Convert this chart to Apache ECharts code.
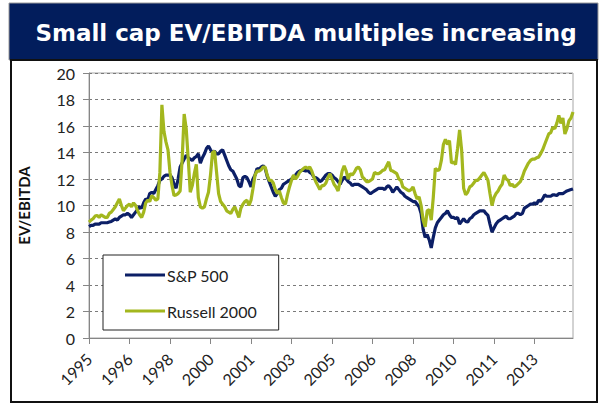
<!DOCTYPE html>
<html>
<head>
<meta charset="utf-8">
<script src="https://cdn.jsdelivr.net/npm/echarts@6/dist/echarts.min.js"></script>
<style>
  html, body { margin: 0; padding: 0; background: #fff; }
  #chart { width: 602px; height: 406px; }
</style>
</head>
<body>
<div id="chart"></div>
<script>
// monthly readings, Jan 1995 .. Dec 2014
const startYear = 1995
const years = 20
const categories = []
for (let y = 0; y < years; y++) {
  for (let m = 1; m <= 12; m++) {
    categories.push((startYear + y) + '-' + (m < 10 ? '0' + m : m))
  }
}

const sp500 = [
  8.4, 8.5, 8.5, 8.6, 8.6, 8.6, 8.7, 8.7, 8.7, 8.7, 8.75, 8.8,          // 1995
  8.9, 9.0, 8.9, 9.1, 9.2, 9.3, 9.3, 9.4, 9.3, 9.1, 9.3, 9.5,           // 1996
  9.7, 9.9, 9.8, 10.2, 10.5, 10.4, 10.9, 11.0, 10.9, 11.2, 11.5, 11.9,  // 1997
  12.0, 12.2, 12.3, 12.3, 12.3, 12.1, 11.6, 11.3, 12.0, 12.9, 13.2, 13.5,
  13.8, 13.6, 13.5, 13.4, 13.6, 13.7, 13.9, 13.2, 13.6, 13.9, 14.3, 14.5,
  14.2, 14.0, 14.1, 13.9, 13.9, 14.1, 14.2, 13.8, 13.4, 13.0, 12.7, 12.6, // 2000
  12.3, 12.0, 11.5, 11.4, 12.1, 12.2, 12.1, 11.8, 11.4, 12.0, 12.3, 12.8,
  12.7, 12.9, 13.0, 12.8, 12.2, 11.8, 11.4, 11.0, 10.7, 10.9, 11.2, 11.3,
  11.6, 11.7, 11.8, 11.9, 12.0, 12.15, 12.3, 12.5, 12.6, 12.65, 12.7, 12.6,
  12.65, 12.5, 12.4, 12.15, 12.1, 12.0, 11.8, 11.9, 12.1, 12.3, 12.4, 12.4,
  12.3, 12.1, 12.0, 11.8, 11.6, 11.9, 12.15, 12.0, 11.8, 11.7, 11.5, 11.6, // 2005
  11.6, 11.6, 11.5, 11.4, 11.3, 11.2, 11.0, 10.9, 11.0, 11.1, 11.2, 11.3,
  11.3, 11.3, 11.2, 11.4, 11.5, 11.3, 11.0, 11.2, 11.4, 11.2, 11.0, 10.9,
  10.7, 10.6, 10.5, 10.4, 10.3, 10.3, 10.1, 9.9, 9.4, 8.2, 7.6, 7.8,
  7.4, 6.8, 7.6, 8.3, 8.7, 8.9, 9.1, 9.3, 9.4, 9.6, 9.3, 9.1,
  9.1, 9.0, 9.1, 8.6, 8.8, 9.0, 8.8, 8.75, 9.0, 9.1, 9.3, 9.4,          // 2010
  9.5, 9.6, 9.6, 9.6, 9.4, 9.25, 8.6, 8.0, 8.3, 8.6, 8.8, 8.9,
  9.0, 9.1, 9.2, 9.0, 9.0, 9.1, 9.2, 9.4, 9.4, 9.3, 9.4, 9.8,
  9.9, 10.0, 10.1, 10.1, 10.2, 10.1, 10.4, 10.3, 10.5, 10.8, 10.7, 10.7,
  10.7, 10.8, 10.8, 10.75, 10.9, 10.9, 10.9, 11.0, 11.1, 11.15, 11.2, 11.25
]

const russell2000 = [
  8.75, 8.9, 9.0, 9.2, 9.25, 9.1, 9.3, 9.2, 9.1, 9.1, 9.4, 9.5,         // 1995
  9.7, 9.9, 10.2, 10.5, 10.0, 9.6, 9.8, 10.0, 10.1, 9.9, 10.2, 10.0,
  9.6, 9.3, 9.1, 9.5, 10.2, 10.4, 10.3, 10.75, 10.6, 10.4, 10.5, 12.5,
  17.6, 15.6, 14.8, 14.2, 12.5, 11.5, 10.75, 10.8, 10.9, 11.1, 13.5, 16.9,
  15.8, 13.5, 11.0, 11.5, 12.4, 13.1, 10.6, 9.9, 9.8, 9.9, 10.5, 11.0,
  12.3, 14.0, 14.1, 12.5, 10.9, 10.3, 10.1, 9.9, 9.6, 9.5, 9.4, 9.7,    // 2000
  9.9, 9.5, 9.1, 9.8, 10.1, 10.3, 10.4, 10.0, 10.4, 11.3, 12.3, 12.6,
  12.6, 12.7, 12.9, 12.9, 12.3, 11.9, 11.9, 11.7, 11.2, 10.9, 11.1, 10.6,
  10.2, 10.1, 10.8, 11.4, 11.9, 12.3, 12.0, 12.2, 12.5, 12.65, 12.8, 12.9,
  12.8, 12.9, 12.6, 12.15, 11.8, 11.5, 11.2, 11.5, 11.5, 11.7, 12.1, 12.4,
  12.0, 11.6, 11.4, 11.1, 11.8, 12.6, 13.0, 12.6, 12.0, 12.4, 12.3, 12.5, // 2005
  12.8, 12.9, 12.7, 12.15, 12.0, 11.8, 11.8, 11.9, 12.0, 12.5, 12.4, 12.4,
  12.5, 12.65, 12.7, 13.0, 13.3, 12.65, 12.6, 12.5, 12.4, 12.0, 11.9, 11.4,
  11.3, 11.2, 11.1, 11.2, 11.4, 10.9, 10.5, 10.65, 10.0, 8.9, 8.4, 9.6,
  9.7, 8.9, 10.6, 12.8, 12.65, 12.7, 13.4, 14.6, 15.0, 14.6, 14.9, 13.2,
  13.3, 13.1, 14.3, 15.7, 14.2, 11.3, 10.8, 11.0, 11.4, 11.5, 11.7, 11.9, // 2010
  11.9, 12.1, 12.3, 12.5, 12.2, 11.9, 10.9, 10.0, 10.6, 10.9, 11.1, 11.4,
  11.6, 12.3, 12.0, 11.9, 11.5, 11.6, 11.4, 11.5, 11.65, 11.8, 12.15, 12.6,
  12.9, 13.2, 13.4, 13.5, 13.5, 13.6, 13.65, 13.9, 14.2, 14.6, 15.0, 15.4,
  15.5, 15.9, 15.8, 16.2, 16.8, 16.2, 16.6, 15.4, 15.8, 16.4, 16.6, 17.05
]

const titleText = 'Small cap EV/EBITDA multiples increasing'
const labelEvery = 20   // excel puts a year label every 20 months

const navy = '#0c1f66'
const olive = '#a3b71e'
const font = 'Lato, "Liberation Sans", sans-serif'

const chart = echarts.init(document.getElementById('chart'), null, { renderer: 'svg' })
chart.setOption({
  animation: false,
  backgroundColor: '#fff',
  graphic: [
    // banner
    { type: 'rect', z: 0, shape: { x: 9, y: 3, width: 589, height: 57 },
      style: { fill: '#021d5c', stroke: '#9a9a9a', lineWidth: 1 } },
    { type: 'text', z: 1, x: 306, y: 33,
      style: { text: titleText, fill: '#fff', font: 'bold 23px "DejaVu Sans", Verdana, sans-serif',
        textAlign: 'center', textVerticalAlign: 'middle' } },
    // chart frame
    { type: 'rect', z: 0, shape: { x: 11, y: 60, width: 586, height: 342 },
      style: { fill: 'none', stroke: '#111', lineWidth: 2 } }
  ],
  grid: {
    left: 89, right: 29, top: 73, bottom: 68,
    show: true, borderColor: '#a6a6a6', borderWidth: 1
  },
  legend: {
    orient: 'vertical',
    left: 103, top: 255,
    data: ['S&P 500', 'Russell 2000'],
    icon: 'rect',
    itemWidth: 40, itemHeight: 3, itemGap: 20,
    padding: [12, 22, 11, 22],
    backgroundColor: '#fff',
    borderColor: '#222', borderWidth: 1,
    textStyle: { fontFamily: font, fontSize: 16, color: '#222', padding: [0, 0, 0, -3] }
  },
  xAxis: {
    type: 'category',
    data: categories,
    boundaryGap: false,
    axisLine: { lineStyle: { color: '#868686' } },
    axisTick: { interval: labelEvery - 1, length: 6, lineStyle: { color: '#868686' } },
    axisLabel: {
      interval: labelEvery - 1,
      rotate: 45,
      margin: 18,
      fontFamily: font, fontSize: 16, color: '#222',
      formatter: v => v.slice(0, 4)
    },
    splitLine: { show: false }
  },
  yAxis: {
    type: 'value',
    min: 0, max: 20, interval: 2,
    name: 'EV/EBITDA',
    nameLocation: 'middle',
    nameRotate: 90,
    nameGap: 58,
    nameTextStyle: { fontFamily: font, fontSize: 15, fontWeight: 'bold', color: '#111' },
    axisLine: { show: true, lineStyle: { color: '#868686' } },
    axisTick: { show: true, length: 6, lineStyle: { color: '#868686' } },
    axisLabel: { margin: 14, fontFamily: font, fontSize: 16, color: '#222' },
    splitLine: { lineStyle: { color: '#7a7a7a', type: [3, 3], width: 1 } }
  },
  series: [
    {
      name: 'S&P 500', type: 'line', data: sp500,
      showSymbol: false, color: navy,
      lineStyle: { width: 3.2, color: navy }
    },
    {
      name: 'Russell 2000', type: 'line', data: russell2000,
      showSymbol: false, color: olive,
      lineStyle: { width: 3.2, color: olive }
    }
  ]
})
</script>
</body>
</html>
